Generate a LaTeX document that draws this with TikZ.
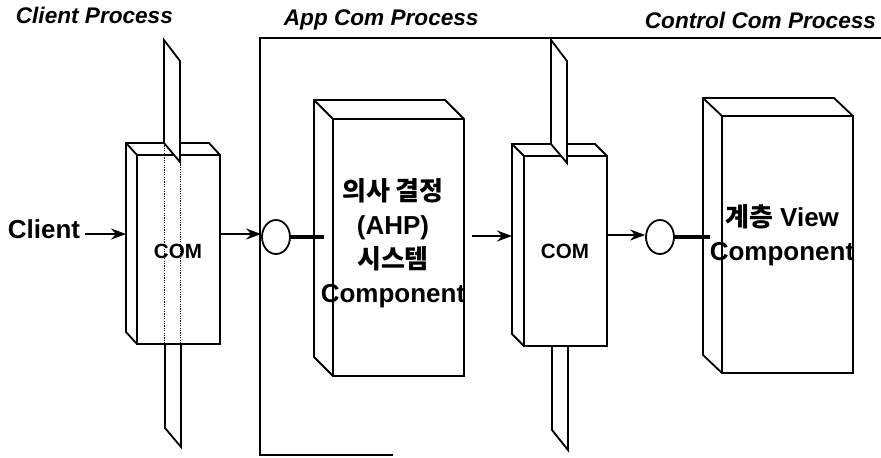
\documentclass[tikz,border=0pt]{standalone}
\usepackage{fontspec}
\setmainfont{Liberation Sans}
\newfontfamily\krfont{Noto Sans CJK KR}
\usetikzlibrary{arrows.meta, shapes.geometric}

\begin{document}
\begin{tikzpicture}[x=0.5pt, y=-0.5pt, line width=0.9pt,
    title/.style={font=\fontsize{11.3}{13}\selectfont\bfseries\itshape, anchor=base west, inner sep=0},
    lbl/.style={font=\fontsize{10.3}{12}\selectfont\bfseries, anchor=base, inner sep=0},
    comp/.style={font=\fontsize{13}{17}\selectfont\bfseries, align=center, inner sep=0},
    arr/.style={-{Stealth[length=7.5pt, width=5.5pt, inset=2.5pt]}},
    bar/.style={line width=2.4pt},
    plane/.style={fill=white},
    hidden/.style={line width=0.5pt, dash pattern=on 0.6pt off 0.6pt},
    lolli/.style={draw, ellipse, fill=white, inner sep=0, minimum width=14pt, minimum height=17pt}]
    \useasboundingbox (0,0) rectangle (881,457);

    % process titles
    \node[title] (tClient) at (15,23) {Client Process};
    \node[title] (tApp) at (283,25) {App Com Process};
    \node[title] (tCtrl) at (644,28) {Control Com Process};

    % app com process frame
    \draw (393,455) -- (260,455) -- (260,38) -- (881,38);

    % client side COM, cut by the process wall
    \draw[fill=white] (126,143) -- (209,143) -- (220,155) -- (220,344) -- (137,344) -- (126,332) -- cycle;
    \draw (126,143) -- (137,155) -- (220,155) (137,155) -- (137,344);
    \draw[hidden] (164,143) -- (164,344) (180,162) -- (180,344);
    \draw[plane] (164,40) -- (180,61) -- (180,162) -- (164,143) -- cycle;
    \draw[plane] (165,344) -- (181,344) -- (181,447) -- (165,428) -- cycle;
    \node[lbl] (comA) at (178,258) {COM};
    \node[font=\fontsize{13}{15}\selectfont\bfseries, anchor=base west, inner sep=0] (client) at (7,238) {Client};

    % decision making component
    \draw[fill=white] (314,100) -- (445,100) -- (464,119) -- (464,376) -- (333,376) -- (314,357) -- cycle;
    \draw (314,100) -- (333,119) -- (464,119) (333,119) -- (333,376);
    \node[comp] (ahp) at (393,243) {{\krfont 의사 결정}\\(AHP)\\{\krfont 시스템}\\Component};

    % control side COM
    \draw[fill=white] (512,144) -- (595,144) -- (607,156) -- (607,346) -- (524,346) -- (512,334) -- cycle;
    \draw (512,144) -- (524,156) -- (607,156) (524,156) -- (524,346);
    \draw[plane] (551,40) -- (567,61) -- (567,163) -- (551,144) -- cycle;
    \draw[plane] (552,346) -- (568,346) -- (568,450) -- (552,430) -- cycle;
    \node[lbl] (comB) at (565,258) {COM};

    % view component
    \draw[fill=white] (703,98) -- (834,98) -- (853,116) -- (853,373) -- (722,373) -- (703,355) -- cycle;
    \draw (703,98) -- (722,116) -- (853,116) (722,116) -- (722,373);
    \node[comp] (view) at (782,235) {{\krfont 계층} View\\Component};

    % interfaces
    \node[lolli] (lollA) at (276,237) {};
    \node[lolli] (lollB) at (660,237) {};
    \coordinate (comAin) at (126,234);
    \coordinate (comAout) at (220,234);
    \coordinate (ahpIn) at (324,237);
    \coordinate (ahpOut) at (472,236);
    \coordinate (comBin) at (512,236);
    \coordinate (comBout) at (607,235);
    \coordinate (viewIn) at (710,237);

    % connectors
    \draw[arr] ([xshift=2pt]client.east |- comAin) -- (comAin);
    \draw[arr] (comAout) -- (comAout -| lollA.west);
    \draw[bar] (lollA.east) -- (ahpIn);
    \draw[arr] (ahpOut) -- (comBin);
    \draw[arr] (comBout) -- (comBout -| lollB.west);
    \draw[bar] (lollB.east) -- (viewIn);
\end{tikzpicture}
\end{document}
